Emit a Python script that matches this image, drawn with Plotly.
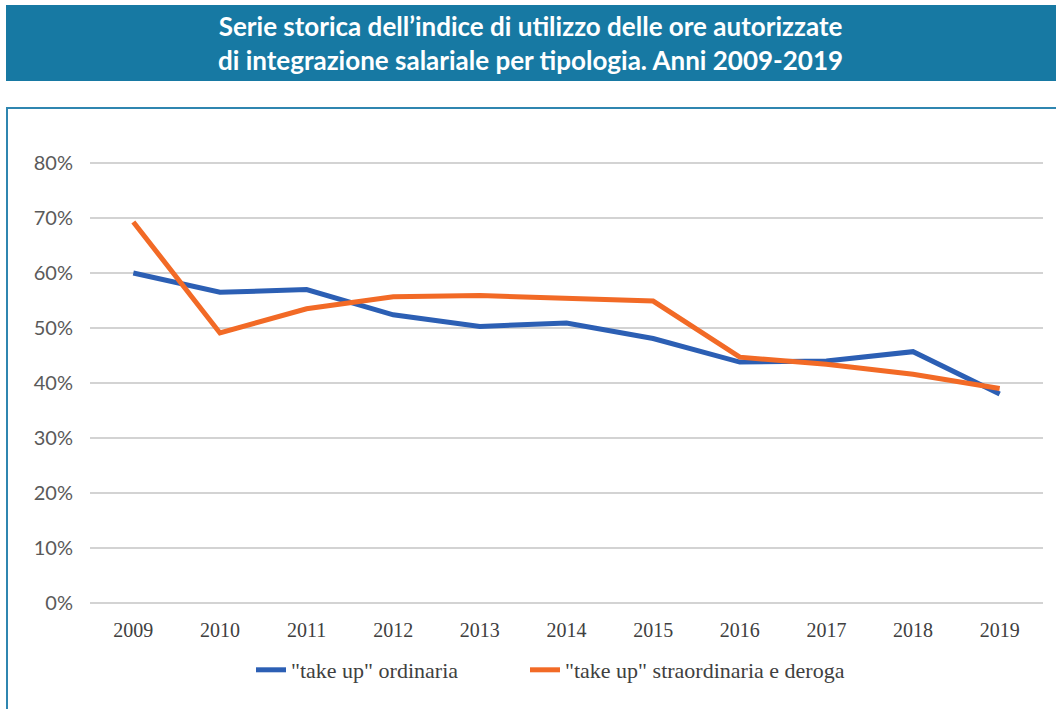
import plotly.graph_objects as go

years = ["2009", "2010", "2011", "2012", "2013", "2014", "2015", "2016", "2017", "2018", "2019"]
ordinaria = [0.600, 0.565, 0.570, 0.524, 0.503, 0.509, 0.481, 0.438, 0.440, 0.457, 0.380]
straordinaria = [0.693, 0.491, 0.535, 0.557, 0.559, 0.553, 0.549, 0.447, 0.434, 0.416, 0.390]
y_ticks = [0, 0.1, 0.2, 0.3, 0.4, 0.5, 0.6, 0.7, 0.8]
y_tick_labels = ["0%", "10%", "20%", "30%", "40%", "50%", "60%", "70%", "80%"]
series_names = ['"take up" ordinaria', '"take up" straordinaria e deroga']
title_text = ("Serie storica dell\u2019indice di utilizzo delle ore autorizzate<br>"
              "di integrazione salariale per tipologia. Anni 2009-2019")

W, H = 1056, 709
L, R, T, B = 90, 13, 162, 105
PW, PH = W - L - R, H - T - B


def px(x):
    return (x - L) / PW


def py(y):
    return (H - B - y) / PH


fig = go.Figure()
fig.add_trace(go.Scatter(x=years, y=ordinaria, mode="lines", name=series_names[0],
                         line=dict(color="#2c5fb4", width=5), legend="legend"))
fig.add_trace(go.Scatter(x=years, y=straordinaria, mode="lines", name=series_names[1],
                         line=dict(color="#f26a26", width=5), legend="legend2"))

fig.update_layout(
    width=W, height=H,
    margin=dict(l=L, r=R, t=T, b=B),
    paper_bgcolor="white", plot_bgcolor="white",
    font=dict(family="Liberation Serif", size=22, color="#404040"),
    showlegend=True,
    legend=dict(orientation="h", x=px(251), xanchor="left", y=py(670), yanchor="middle",
                bgcolor="rgba(0,0,0,0)"),
    legend2=dict(orientation="h", x=px(525), xanchor="left", y=py(670), yanchor="middle",
                 bgcolor="rgba(0,0,0,0)"),
    shapes=[
        dict(type="rect", xref="paper", yref="paper", x0=px(6), x1=px(1060), y0=py(81), y1=py(5),
             fillcolor="#1779a3", line=dict(width=0), layer="below"),
        dict(type="rect", xref="paper", yref="paper", x0=px(7), x1=px(1070), y0=py(720), y1=py(108),
             fillcolor="rgba(0,0,0,0)", line=dict(color="#2f86b0", width=2), layer="below"),
    ],
    annotations=[
        dict(text=title_text, xref="paper", yref="paper", x=px(530), y=py(43), xanchor="center",
             yanchor="middle", showarrow=False, align="center",
             font=dict(family="Lato", size=26, color="white", weight="bold")),
    ],
)
fig.update_xaxes(type="category", range=[-0.5, 10.5], showgrid=False, showline=False, zeroline=False,
                 ticks="", ticklabelstandoff=12,
                 tickfont=dict(family="Liberation Serif", size=20, color="#404040"))
fig.update_yaxes(range=[-0.002, 0.802], tickvals=y_ticks, ticktext=y_tick_labels, showgrid=True,
                 gridcolor="#d3d3d3", gridwidth=2, zeroline=False, showline=False, ticks="",
                 ticklabelstandoff=16,
                 tickfont=dict(family="Lato", size=20, color="#5a5a5a"))

fig.write_html("out.html", config={"displayModeBar": False},
               post_script="document.body.style.margin='0';")
